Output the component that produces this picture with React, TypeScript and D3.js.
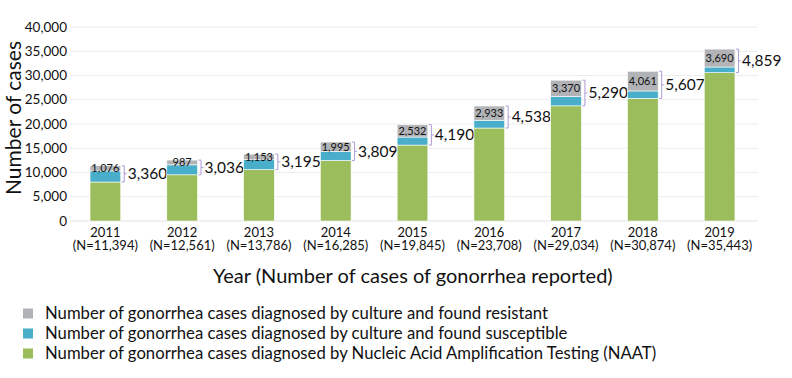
import React from "react";
import * as d3 from "d3";

const years = ["2011", "2012", "2013", "2014", "2015", "2016", "2017", "2018", "2019"];
const totals = [11394, 12561, 13786, 16285, 19845, 23708, 29034, 30874, 35443];
const resistant = [1076, 987, 1153, 1995, 2532, 2933, 3370, 4061, 3690];
const cultureTotal = [3360, 3036, 3195, 3809, 4190, 4538, 5290, 5607, 4859];
const yTicks = [0, 5000, 10000, 15000, 20000, 25000, 30000, 35000, 40000];
const legendLabels = [
  "Number of gonorrhea cases diagnosed by culture and found resistant",
  "Number of gonorrhea cases diagnosed by culture and found susceptible",
  "Number of gonorrhea cases diagnosed by Nucleic Acid Amplification Testing (NAAT)",
];

const colors = { res: "#b2b3b7", sus: "#48aec9", naat: "#9bbd5b" };
const FONT = "Lato, 'Noto Sans', sans-serif";

export default function App() {
  const W = 792, H = 378;
  const x = d3.scaleBand().domain(years).range([67, 758]).paddingInner(0.6).paddingOuter(0.3);
  const y = d3.scaleLinear().domain([0, 40000]).range([221, 27]);
  const fmt = d3.format(",");

  const rows = years.map((yr, i) => {
    const naat = totals[i] - cultureTotal[i];
    const sus = cultureTotal[i] - resistant[i];
    return { yr, naat, sus, res: resistant[i], total: totals[i], culture: cultureTotal[i] };
  });

  const bw = x.bandwidth();

  return (
    <svg width={W} height={H} style={{ position: "absolute", left: 0, top: 0, background: "#fff" }} fontFamily={FONT}>
      {yTicks.map((t) => (
        <g key={t}>
          <line x1={70} x2={758} y1={y(t)} y2={y(t)} stroke={t === 0 ? "#e4e4e4" : "#ededed"} strokeWidth={1.2} />
          <text x={67} y={y(t)} dy="0.35em" textAnchor="end" fontSize={13.5} fill="#111">{fmt(t)}</text>
        </g>
      ))}
      <text transform={`translate(16,${y(20000) - 6}) rotate(-90)`} textAnchor="middle" dominantBaseline="middle" fontSize={21} fill="#111">Number of cases</text>

      {rows.map((r) => {
        const x0 = x(r.yr)!;
        const yNaat = y(r.naat);
        const ySus = y(r.naat + r.sus);
        const yTop = y(r.total);
        const bx = x0 + bw + 1;
        const midB = (yTop + yNaat) / 2;
        return (
          <g key={r.yr}>
            <rect x={x0} y={yNaat} width={bw} height={y(0) - yNaat} fill={colors.naat} stroke="#fff" strokeWidth={0.6} />
            <rect x={x0} y={ySus} width={bw} height={yNaat - ySus} fill={colors.sus} stroke="#fff" strokeWidth={0.6} />
            <rect x={x0} y={yTop} width={bw} height={ySus - yTop} fill={colors.res} stroke="#fff" strokeWidth={0.6} />
            <text x={x0 + bw / 2} y={(yTop + ySus) / 2} dy="0.35em" textAnchor="middle" fontSize={11} fill="#111">{fmt(r.res)}</text>
            <path d={`M${bx},${yTop}H${bx + 2.5}V${yNaat}H${bx}M${bx + 2.5},${midB}H${bx + 5}`} fill="none" stroke="#ae9bd6" strokeWidth={1} />
            <text x={bx + 6} y={midB} dy="0.35em" fontSize={15.5} fill="#111">{fmt(r.culture)}</text>
            <text x={x0 + bw / 2} y={236.5} textAnchor="middle" fontSize={13} fill="#111">{r.yr}</text>
            <text x={x0 + bw / 2} y={249.5} textAnchor="middle" fontSize={13} fill="#111">{`(N=${fmt(r.total)})`}</text>
          </g>
        );
      })}

      <text x={213} y={282.5} fontSize={20} fill="#111">Year (Number of cases of gonorrhea reported)</text>

      {legendLabels.map((l, i) => {
        const c = [colors.res, colors.sus, colors.naat][i];
        const ly = 313.5 + i * 20;
        return (
          <g key={l}>
            <rect x={23} y={ly - 5} width={10} height={10} fill={c} />
            <text x={45} y={ly} dy="0.35em" fontSize={16.7} fill="#111">{l}</text>
          </g>
        );
      })}
    </svg>
  );
}
